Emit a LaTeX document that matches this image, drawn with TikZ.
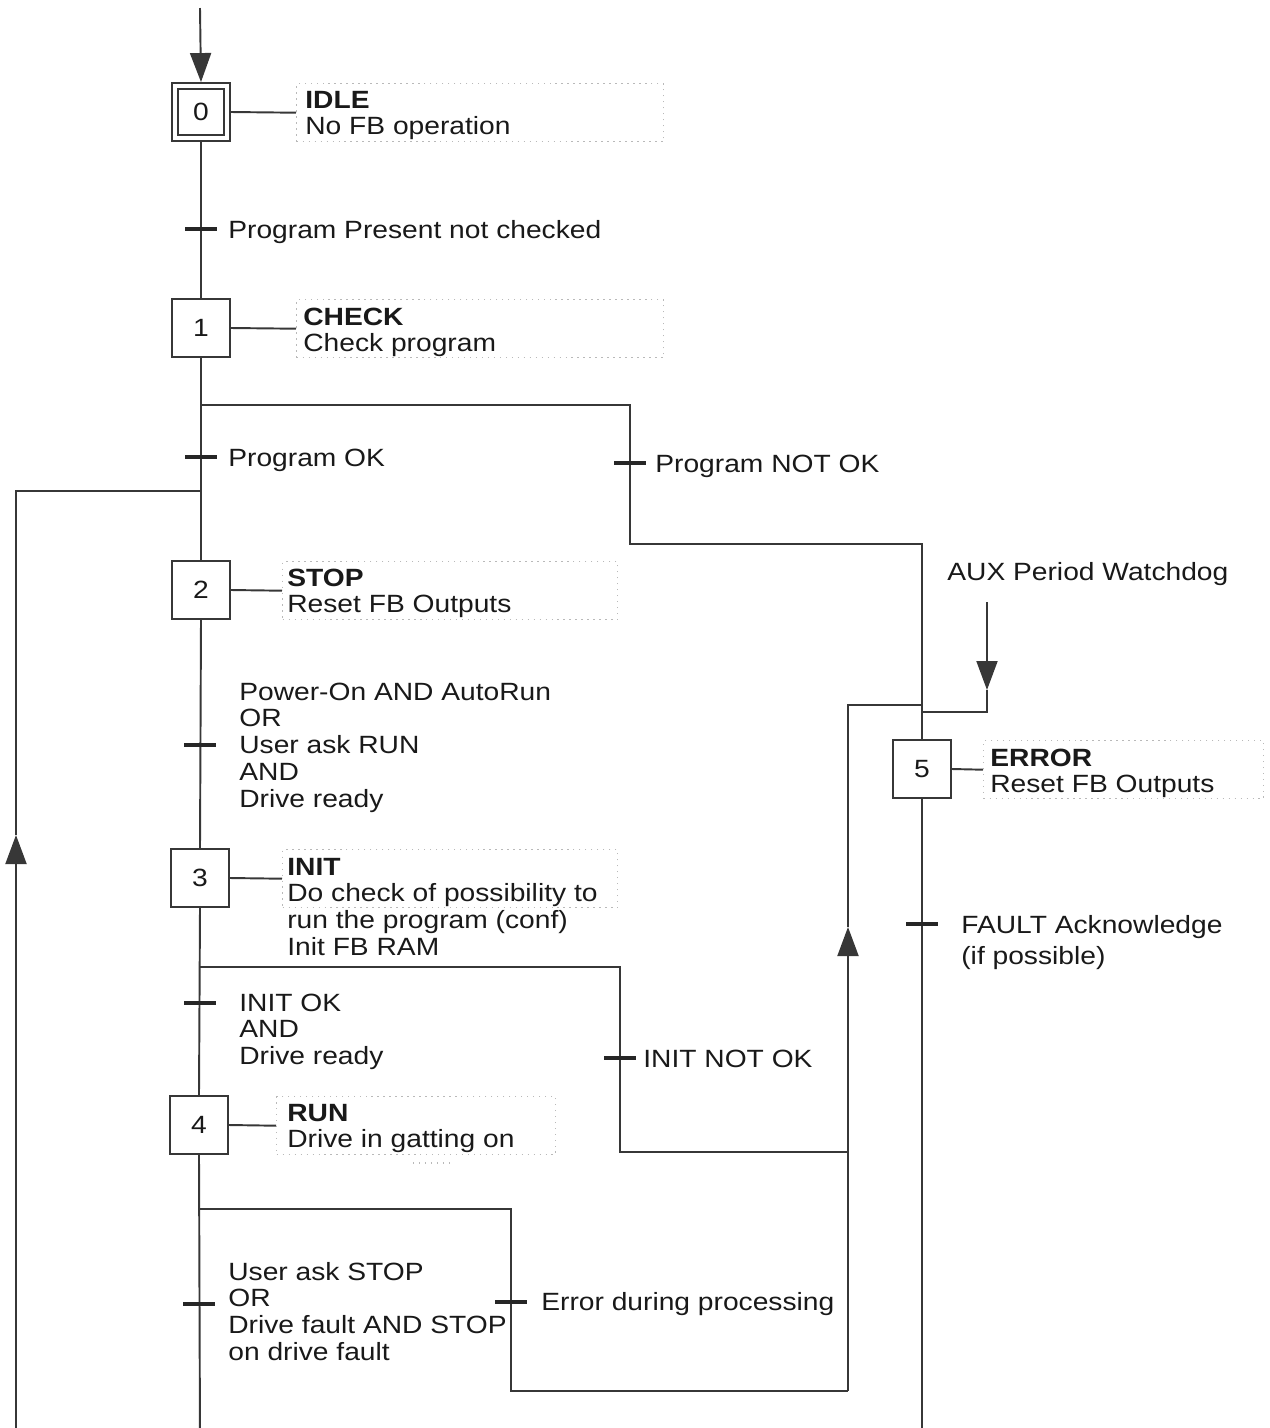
\documentclass[tikz,border=0pt]{standalone}
\usepackage{fontspec}
\setmainfont{Liberation Sans}[FakeStretch=1.13]
\usetikzlibrary{arrows.meta}
\newcommand{\mylines}[1]{\begin{tabular}[t]{@{}l@{}}#1\end{tabular}}
\definecolor{linecol}{RGB}{55,55,55}
\definecolor{txtcol}{RGB}{25,25,25}
\begin{document}
\begin{tikzpicture}[x=0.02cm,y=-0.02cm,
  every node/.style={font=\fontsize{14.2}{15.3}\selectfont, text=txtcol},
  stepbox/.style={draw=linecol, line width=1.1pt, minimum size=1.16cm, inner sep=0pt, fill=white},
  wire/.style={draw=linecol, line width=1.1pt},
  bar/.style={fill=black!85, minimum width=0.64cm, minimum height=0.075cm, inner sep=0pt},
  actbox/.style={draw=gray!55, dash pattern=on 0.8pt off 2.6pt, line width=0.8pt, anchor=north west, inner sep=0pt},
  lbl/.style={anchor=base west, inner sep=0pt},
  arr/.style={-{Triangle[width=0.42cm,length=0.58cm]}}]
\useasboundingbox (0,0) rectangle (1269,1428);

% coordinates
\coordinate (top) at (200,8);
\coordinate (j1) at (200,405);
\coordinate (c1) at (630,544);
\coordinate (j2) at (200,491);
\coordinate (lpc) at (16,491);
\coordinate (lpa) at (16,835);
\coordinate (lpb) at (16,1440);
\coordinate (j3) at (200,967);
\coordinate (c3) at (620,1152);
\coordinate (j4) at (200,1209);
\coordinate (c4) at (511,1391);
\coordinate (m1) at (848,1391);
\coordinate (m2) at (848,927);
\coordinate (m3) at (848,705);
\coordinate (m4) at (922,705);
\coordinate (m5) at (848,1152);
\coordinate (auxt) at (987,602);
\coordinate (auxa) at (987,690);
\coordinate (auxb) at (987,712);
\coordinate (auxc) at (922,712);
\coordinate (bot4) at (200,1440);
\coordinate (bot5) at (922,1440);

% steps
\node[stepbox] (s0) at (201,112) {0};
\node[draw=linecol, line width=1pt, minimum size=0.92cm, inner sep=0pt] (s0in) at (s0) {};
\node[stepbox] (s1) at (201,328) {1};
\node[stepbox] (s2) at (201,590) {2};
\node[stepbox] (s3) at (200,878) {3};
\node[stepbox] (s4) at (199,1125) {4};
\node[stepbox] (s5) at (922,769) {5};

% action boxes
\node[actbox, minimum width=7.34cm, minimum height=1.16cm] (a0) at (296,83) {};
\node[actbox, minimum width=7.34cm, minimum height=1.16cm] (a1) at (296,299) {};
\node[actbox, minimum width=6.7cm, minimum height=1.16cm] (a2) at (282,561) {};
\node[actbox, minimum width=6.7cm, minimum height=1.16cm] (a3) at (282,849) {};
\node[actbox, minimum width=5.58cm, minimum height=1.16cm] (a4) at (276,1096) {};
\node[actbox, minimum width=5.6cm, minimum height=1.16cm] (a5) at (983,740) {};
\draw[draw=gray!55, dash pattern=on 0.8pt off 2.6pt, line width=0.8pt] (413,1163) -- (450,1163);

% action texts
\node[lbl] (t0) at (305,108) {\mylines{\textbf{IDLE}\\No FB operation}};
\node[lbl] (t1) at (303,325) {\mylines{\textbf{CHECK}\\Check program}};
\node[lbl] (t2) at (287,586) {\mylines{\textbf{STOP}\\Reset FB Outputs}};
\node[lbl] (t3) at (287,875) {\mylines{\textbf{INIT}\\Do check of possibility to\\run the program (conf)\\Init FB RAM}};
\node[lbl] (t4) at (287,1121) {\mylines{\textbf{RUN}\\Drive in gatting on}};
\node[lbl] (t5) at (990,766) {\mylines{\textbf{ERROR}\\Reset FB Outputs}};

% wires
\draw[wire, arr] (top) -- (s0.north);
\draw[wire] (s0.south) -- (s1.north);
\draw[wire] (s1.south) -- (s2.north);
\draw[wire] (s2.south) -- (s3.north);
\draw[wire] (s3.south) -- (s4.north);
\draw[wire] (s4.south) -- (bot4);
\draw[wire] (s5.south) -- (bot5);
\draw[wire] (s0.east) -- (a0.west);
\draw[wire] (s1.east) -- (a1.west);
\draw[wire] (s2.east) -- (a2.west);
\draw[wire] (s3.east) -- (a3.west);
\draw[wire] (s4.east) -- (a4.west);
\draw[wire] (s5.east) -- (a5.west);
\draw[wire] (j1) -| (c1) -| (s5.north);
\draw[wire, arr] (lpb) -- (lpa);
\draw[wire] (lpa) -- (lpc) -- (j2);
\draw[wire] (j3) -| (c3) -- (m5);
\draw[wire] (j4) -| (c4) -- (m1);
\draw[wire, arr] (m1) -- (m2);
\draw[wire] (m2) -- (m3) -- (m4);
\draw[wire, arr] (auxt) -- (auxa);
\draw[wire] (auxa) -- (auxb) -- (auxc);

% transitions
\node[bar] (b0) at (201,229) {};
\node[bar] (b1) at (201,457) {};
\node[bar] (b1n) at (630,463) {};
\node[bar] (b2) at (200,745) {};
\node[bar] (b3) at (200,1003) {};
\node[bar] (b3n) at (620,1058) {};
\node[bar] (b4) at (199,1304) {};
\node[bar] (b4n) at (511,1302) {};
\node[bar] (b5) at (922,924) {};

% transition labels
\node[lbl] (l0) at (228,238) {Program Present not checked};
\node[lbl] (l1) at (228,466) {Program OK};
\node[lbl] (l1n) at (655,472) {Program NOT OK};
\node[lbl] (l2) at (239,700) {\mylines{Power-On AND AutoRun\\OR\\User ask RUN\\AND\\Drive ready}};
\node[lbl] (l3) at (239,1011) {\mylines{INIT OK\\AND\\Drive ready}};
\node[lbl] (l3n) at (643,1067) {INIT NOT OK};
\node[lbl] (l4) at (228,1280) {\mylines{User ask STOP\\OR\\Drive fault AND STOP\\on drive fault}};
\node[lbl] (l4n) at (541,1310) {Error during processing};
\node[lbl] (l5) at (961,933) {\mylines{FAULT Acknowledge\\[2.8pt](if possible)}};
\node[lbl] (aux) at (947,580) {AUX Period Watchdog};
\end{tikzpicture}
\end{document}
